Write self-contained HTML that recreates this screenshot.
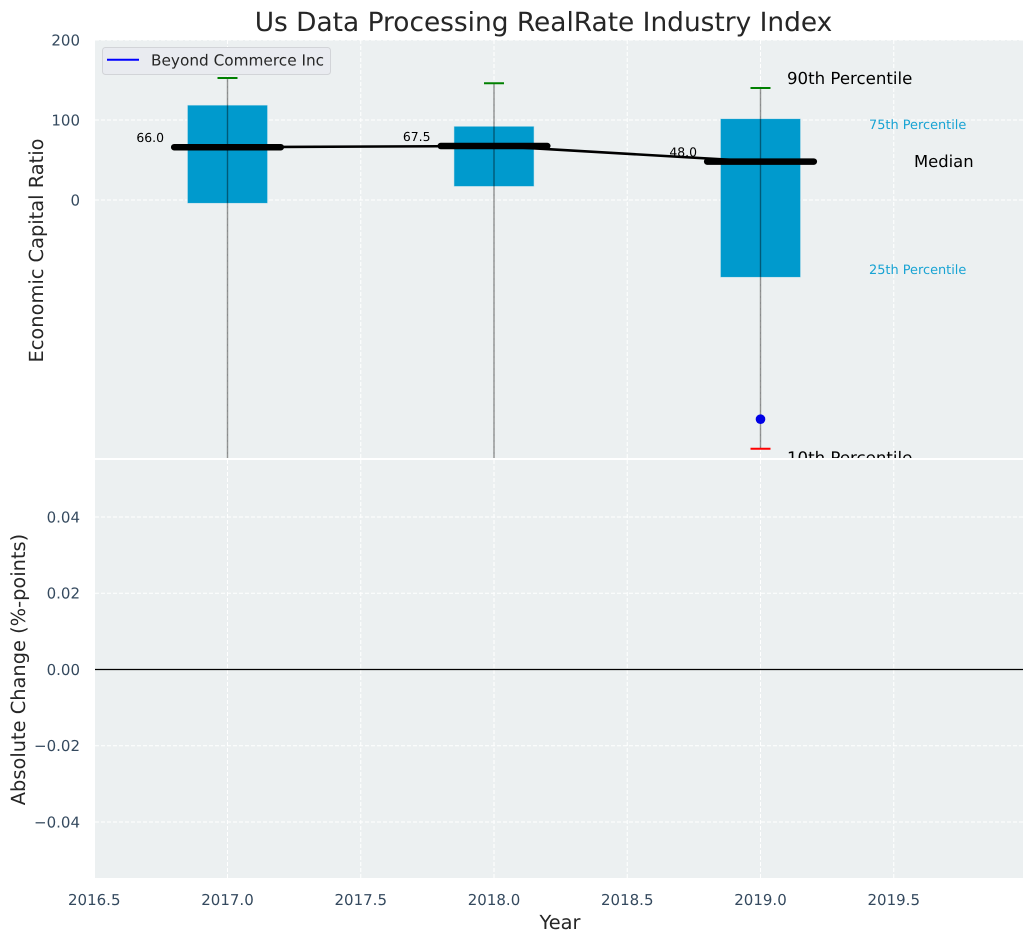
<!DOCTYPE html>
<html>
<head>
<meta charset="utf-8">
<title>Us Data Processing RealRate Industry Index</title>
<style>
html,body{margin:0;padding:0;background:#fff;}
svg{display:block;font-family:"DejaVu Sans","Liberation Sans",sans-serif;text-rendering:geometricPrecision;}
</style>
</head>
<body>
<svg id="chart" width="1034" height="942" viewBox="0 0 1034 942" xmlns="http://www.w3.org/2000/svg">
  <defs>
    <clipPath id="clip-top"><rect x="95" y="40" width="928" height="418"/></clipPath>
    <clipPath id="clip-bottom"><rect x="95" y="460" width="928" height="418"/></clipPath>
  </defs>
  <rect x="95" y="40" width="928" height="418" fill="#ecf0f1"/>
  <rect x="95" y="460" width="928" height="418" fill="#ecf0f1"/>
  <g id="grid-top" clip-path="url(#clip-top)"></g>
  <g id="grid-bottom" clip-path="url(#clip-bottom)"></g>
  <g id="marks-top" clip-path="url(#clip-top)"></g>
  <g id="marks-bottom" clip-path="url(#clip-bottom)"></g>
  <g id="ticks"></g>
  <text x="543.5" y="31" text-anchor="middle" font-size="26.4" fill="#262626">Us Data Processing RealRate Industry Index</text>
  <text transform="translate(43,250.5) rotate(-90)" text-anchor="middle" font-size="19.4" fill="#262626">Economic Capital Ratio</text>
  <text transform="translate(25,669.5) rotate(-90)" text-anchor="middle" font-size="19.4" fill="#262626">Absolute Change (%-points)</text>
  <text x="560" y="929" text-anchor="middle" font-size="19.4" fill="#262626">Year</text>
  <g>
    <rect x="102.5" y="47.5" width="228" height="27" rx="3" fill="#e9ebf0" stroke="#d2d4d8"/>
    <line x1="107" y1="59.8" x2="139" y2="59.8" stroke="#0000ff" stroke-width="2"/>
    <text x="151" y="65.5" font-size="15.3" fill="#262626">Beyond Commerce Inc</text>
  </g>
<script>
var years = [2017, 2018, 2019];
var p90 = [152.5, 146, 140];
var p75 = [118.5, 92, 101.5];
var medians = [66, 67.5, 48];
var p25 = [-4, 17, -96.5];
var p10 = [-360, -360, -311];
var companyYears = [2019];
var companyValues = [-274];
var xTicks = [2016.5, 2017, 2017.5, 2018, 2018.5, 2019, 2019.5];
var topYTicks = [200, 100, 0];
var bottomYTicks = [0.04, 0.02, 0, -0.02, -0.04];
var bottomYLabels = ['0.04', '0.02', '0.00', '\u22120.02', '\u22120.04'];

function sx(v) { return 227.5 + (v - 2017) * 266.5; }
function syTop(v) { return 200 - v * 0.8; }
function syBottom(v) { return 669.5 - v * 3812; }

var NS = 'http://www.w3.org/2000/svg';
function make(tag, parent, attrs, txt) {
  var el = document.createElementNS(NS, tag);
  for (var k in attrs) { el.setAttribute(k, attrs[k]); }
  if (txt !== undefined) { el.textContent = txt; }
  parent.appendChild(el);
  return el;
}

var gridTop = document.getElementById('grid-top');
var gridBottom = document.getElementById('grid-bottom');
var marksTop = document.getElementById('marks-top');
var marksBottom = document.getElementById('marks-bottom');
var ticks = document.getElementById('ticks');
var gridStyle = { stroke: '#ffffff', 'stroke-width': 1, 'stroke-dasharray': '4 2' };

function gridLine(parent, x1, y1, x2, y2) {
  var attrs = { x1: x1, y1: y1, x2: x2, y2: y2 };
  for (var k in gridStyle) { attrs[k] = gridStyle[k]; }
  return make('line', parent, attrs);
}

xTicks.forEach(function (t) {
  var x = sx(t);
  var a = gridLine(gridTop, x, 40, x, 458);
  
  
  var b = gridLine(gridBottom, x, 460, x, 878);
  
  
  var label = make('text', ticks, { x: x, y: 905, 'text-anchor': 'middle', 'font-size': 15, fill: '#34495e' }, t.toFixed(1));
  
  
});

topYTicks.forEach(function (t) {
  var y = syTop(t);
  var g = gridLine(gridTop, 95, y, 1023, y);
  
  
  var label = make('text', ticks, { x: 80, y: y + 5.4, 'text-anchor': 'end', 'font-size': 15, fill: '#34495e' }, String(t));
  
  
});

bottomYTicks.forEach(function (t, i) {
  var y = syBottom(t);
  var g = gridLine(gridBottom, 95, y, 1023, y);
  
  
  var label = make('text', ticks, { x: 80, y: y + 5.4, 'text-anchor': 'end', 'font-size': 15, fill: '#34495e' }, bottomYLabels[i]);
  
  
});

var zeroLine = make('line', marksBottom, { x1: 95, y1: syBottom(0), x2: 1023, y2: syBottom(0), stroke: '#000000', 'stroke-width': 1.3 });



years.forEach(function (yr, i) {
  var x = sx(yr);
  var box = make('rect', marksTop, { x: sx(yr - 0.15), y: syTop(p75[i]), width: sx(yr + 0.15) - sx(yr - 0.15), height: syTop(p25[i]) - syTop(p75[i]), fill: '#009acd', stroke: '#b8dcea', 'stroke-width': 0.5 });
  
  
  var whisker = make('line', marksTop, { x1: x, y1: syTop(p90[i]), x2: x, y2: syTop(p10[i]), stroke: '#000000', 'stroke-opacity': 0.42, 'stroke-width': 1.4 });
  
  
  var capHigh = make('line', marksTop, { x1: sx(yr - 0.0375), y1: syTop(p90[i]), x2: sx(yr + 0.0375), y2: syTop(p90[i]), stroke: '#008000', 'stroke-width': 2 });
  
  
  var capLow = make('line', marksTop, { x1: sx(yr - 0.0375), y1: syTop(p10[i]), x2: sx(yr + 0.0375), y2: syTop(p10[i]), stroke: '#ff0000', 'stroke-width': 2 });
  
  
});

var pts = years.map(function (yr, i) { return sx(yr) + ',' + syTop(medians[i]); }).join(' ');
var trend = make('polyline', marksTop, { points: pts, fill: 'none', stroke: '#000000', 'stroke-width': 2.6 });



years.forEach(function (yr, i) {
  var y = syTop(medians[i]);
  var m = make('line', marksTop, { x1: sx(yr - 0.2), y1: y, x2: sx(yr + 0.2), y2: y, stroke: '#000000', 'stroke-width': 6.5, 'stroke-linecap': 'round' });
  
  
  var t = make('text', marksTop, { x: sx(yr) - 63.5, y: y - 5, 'text-anchor': 'end', 'font-size': 12.4, fill: '#000000' }, medians[i].toFixed(1));
  
  
});

companyYears.forEach(function (yr, i) {
  var dot = make('circle', marksTop, { cx: sx(yr), cy: syTop(companyValues[i]), r: 4.8, fill: '#0000e6' });
  
  
});

var last = years.length - 1;
var lastX = sx(years[last]);
var a90 = make('text', marksTop, { x: lastX + 26.5, y: syTop(p90[last]) - 4, 'font-size': 16.6, fill: '#000000' }, '90th Percentile');


var a10 = make('text', marksTop, { x: lastX + 26.5, y: syTop(p10[last]) + 14.5, 'font-size': 16.6, fill: '#000000' }, '10th Percentile');


var a75 = make('text', marksTop, { x: lastX + 108.5, y: syTop(p75[last]) + 10, 'font-size': 12.9, fill: '#18a3d3' }, '75th Percentile');


var a25 = make('text', marksTop, { x: lastX + 108.5, y: syTop(p25[last]) - 3, 'font-size': 12.9, fill: '#18a3d3' }, '25th Percentile');


var aMed = make('text', marksTop, { x: lastX + 153.5, y: syTop(medians[last]) + 5.5, 'font-size': 16.4, fill: '#000000' }, 'Median');


</script>
</svg>
</body>
</html>
